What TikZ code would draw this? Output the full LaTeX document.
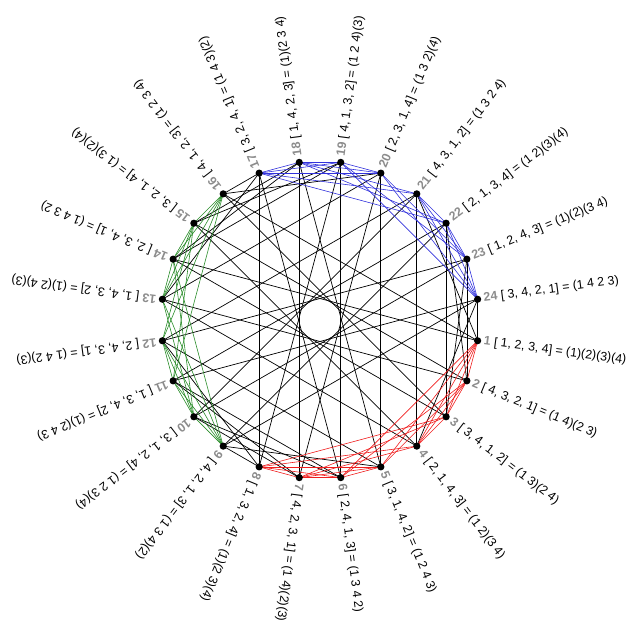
\documentclass[tikz,border=0pt]{standalone}
\usepackage{fontspec}
\setmainfont{Liberation Sans}
\usetikzlibrary{calc}
\pgfdeclarelayer{bg}
\pgfsetlayers{bg,main}
\definecolor{numgray}{RGB}{140,140,140}
\definecolor{ered}{RGB}{240,30,30}
\definecolor{egreen}{RGB}{40,140,40}
\definecolor{eblue}{RGB}{50,50,220}
\begin{document}
\begin{tikzpicture}[x=1pt,y=1pt,
  dot/.style={circle,fill=black,inner sep=0pt,minimum size=7.2pt},
  lab/.style={anchor=west,inner sep=0pt,font=\fontsize{12.4}{14}\selectfont},
  blk/.style={draw=black,line width=0.7pt},
  redE/.style={draw=ered,line width=0.6pt},
  grnE/.style={draw=egreen,line width=0.6pt},
  bluE/.style={draw=eblue,line width=0.6pt}]
\useasboundingbox (0,0) rectangle (640,640);
\coordinate (c) at (320,320);
\foreach \k in {1,...,24}{
  \pgfmathsetmacro\ang{-7.5-15*(\k-1)}
  \node[dot] (n\k) at ($(c)+(\ang:159)$) {};
}
\foreach \k/\t in {
 1/{[ 1, 2, 3, 4] = (1)(2)(3)(4)},
 2/{[ 4, 3, 2, 1] = (1 4)(2 3)},
 3/{[ 3, 4, 1, 2] = (1 3)(2 4)},
 4/{[ 2, 1, 4, 3] = (1 2)(3 4)},
 5/{[ 3, 1, 4, 2] = (1 2 4 3)},
 6/{[ 2, 4, 1, 3] = (1 3 4 2)},
 7/{[ 4, 2, 3, 1] = (1 4)(2)(3)},
 8/{[ 1, 3, 2, 4] = (1)(2 3)(4)},
 9/{[ 4, 2, 1, 3] = (1 3 4)(2)},
 10/{[ 3, 1, 2, 4] = (1 2 3)(4)},
 11/{[ 1, 3, 4, 2] = (1)(2 4 3)},
 12/{[ 2, 4, 3, 1] = (1 4 2)(3)},
 13/{[ 1, 4, 3, 2] = (1)(2 4)(3)},
 14/{[ 2, 3, 4, 1] = (1 4 3 2)},
 15/{[ 3, 2, 1, 4] = (1 3)(2)(4)},
 16/{[ 4, 1, 2, 3] = (1 2 3 4)},
 17/{[ 3, 2, 4, 1] = (1 4 3)(2)},
 18/{[ 1, 4, 2, 3] = (1)(2 3 4)},
 19/{[ 4, 1, 3, 2] = (1 2 4)(3)},
 20/{[ 2, 3, 1, 4] = (1 3 2)(4)},
 21/{[ 4, 3, 1, 2] = (1 3 2 4)},
 22/{[ 2, 1, 3, 4] = (1 2)(3)(4)},
 23/{[ 1, 2, 4, 3] = (1)(2)(3 4)},
 24/{[ 3, 4, 2, 1] = (1 4 2 3)}}{
  \pgfmathsetmacro\ang{-7.5-15*(\k-1)}
  \node[lab,rotate=\ang] (t\k) at ($(c)+(\ang:165)$) {{\color{numgray}\bfseries\k} \t};
}
\begin{pgfonlayer}{bg}
\foreach \a/\b in {1/24,2/23,3/22,4/21,5/20,6/19,7/18,8/17,6/17,5/18,8/19,7/20,1/21,2/22,3/23,4/24,
 9/22,10/21,11/24,12/23,13/17,14/18,15/19,16/20,16/17,15/18,14/19,13/20,12/21,11/22,10/23,9/24,
 1/16,2/15,3/14,4/13,5/12,6/11,7/10,8/9,5/9,6/10,7/11,8/12,2/13,1/14,4/15,3/16}
  \draw[blk] (n\a.center) -- (n\b.center);
\foreach \a/\b in {1/2,3/4,5/6,7/8,1/3,2/4,5/8,6/7,1/4,2/3,5/7,6/8,1/5,2/6,3/7,4/8,2/5,1/6,4/7,3/8}
  \draw[redE] (n\a.center) -- (n\b.center);
\foreach \a/\b in {9/11,10/12,13/16,14/15,9/12,10/11,13/15,14/16,9/10,11/12,13/14,15/16,9/13,10/14,11/15,12/16,10/13,9/14,12/15,11/16}
  \draw[grnE] (n\a.center) -- (n\b.center);
\foreach \a/\b in {17/20,18/19,21/23,22/24,17/18,19/20,21/22,23/24,17/19,18/20,21/24,22/23,17/22,18/21,19/24,20/23,17/21,18/22,19/23,20/24}
  \draw[bluE] (n\a.center) -- (n\b.center);
\end{pgfonlayer}
\end{tikzpicture}
\end{document}
